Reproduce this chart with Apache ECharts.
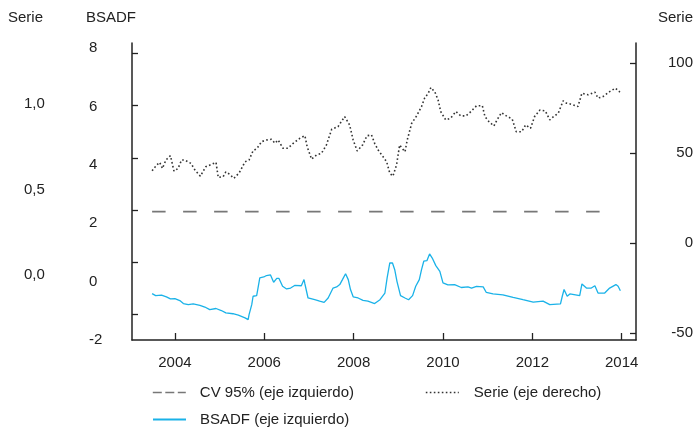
<!DOCTYPE html>
<html>
<head>
<meta charset="utf-8">
<script src="https://cdn.jsdelivr.net/npm/echarts@6/dist/echarts.min.js"></script>
<style>
  html, body { margin: 0; padding: 0; background: #fff; }
  #chart-container { width: 696px; height: 429px; }
</style>
</head>
<body>
<div id="chart-container"></div>
<script>
// Serie (eje derecho) as [decimal year, value]
const serieYears = [2003.49, 2003.59, 2003.66, 2003.72, 2003.80, 2003.90, 2003.98, 2004.07, 2004.15, 2004.22,
  2004.36, 2004.45, 2004.57, 2004.69, 2004.82, 2004.92, 2004.97, 2005.08, 2005.14, 2005.23,
  2005.32, 2005.44, 2005.57, 2005.66, 2005.75, 2005.84, 2005.94, 2006.05, 2006.16, 2006.24,
  2006.31, 2006.42, 2006.53, 2006.65, 2006.80, 2006.91, 2006.96, 2007.06, 2007.17, 2007.28,
  2007.39, 2007.51, 2007.65, 2007.80, 2007.91, 2007.99, 2008.08, 2008.20, 2008.30, 2008.40,
  2008.47, 2008.55, 2008.66, 2008.74, 2008.81, 2008.88, 2008.96, 2009.03, 2009.07, 2009.15,
  2009.20, 2009.30, 2009.41, 2009.52, 2009.59, 2009.67, 2009.73, 2009.82, 2009.89, 2009.95,
  2010.06, 2010.17, 2010.29, 2010.40, 2010.51, 2010.60, 2010.75, 2010.88, 2010.94, 2011.03,
  2011.14, 2011.21, 2011.31, 2011.42, 2011.55, 2011.64, 2011.76, 2011.85, 2011.96, 2012.05,
  2012.17, 2012.29, 2012.39, 2012.46, 2012.58, 2012.69, 2012.76, 2012.87, 2013.02, 2013.11,
  2013.25, 2013.40, 2013.47, 2013.58, 2013.73, 2013.86, 2013.96];
const serieValues = [40.3, 43.5, 45.0, 41.6, 46.3, 48.7, 40.1, 41.6, 46.3, 46.3,
  44.4, 40.7, 37.3, 42.5, 43.9, 45.0, 36.6, 37.0, 39.7, 38.3,
  36.1, 39.2, 45.3, 46.3, 51.4, 52.8, 56.5, 57.4, 57.8, 55.6,
  57.4, 52.8, 52.8, 55.6, 58.4, 59.8, 53.7, 46.8, 49.1, 50.0,
  54.6, 63.4, 64.8, 70.4, 65.8, 57.4, 51.3, 54.6, 59.8, 60.2,
  55.6, 51.8, 48.1, 45.3, 38.9, 37.3, 43.5, 54.6, 53.3, 50.9,
  57.4, 66.7, 70.8, 76.0, 80.7, 83.4, 86.6, 84.0, 79.7, 73.2,
  68.6, 69.5, 73.2, 70.8, 70.8, 72.6, 76.4, 76.5, 70.4, 67.6,
  65.2, 68.6, 72.6, 70.8, 69.0, 62.0, 62.0, 65.8, 63.9, 70.4,
  74.1, 73.6, 68.6, 70.1, 72.3, 79.2, 77.9, 77.3, 76.0, 83.4,
  82.5, 84.0, 80.7, 81.5, 84.3, 86.2, 84.0];

// BSADF (eje izquierdo)
const bsadfYears = [2003.49, 2003.57, 2003.70, 2003.81, 2003.90, 2004.00, 2004.11, 2004.19, 2004.30, 2004.41,
  2004.56, 2004.67, 2004.78, 2004.92, 2005.04, 2005.14, 2005.30, 2005.42, 2005.57, 2005.64,
  2005.66, 2005.72, 2005.75, 2005.83, 2005.86, 2005.90, 2005.99, 2006.05, 2006.14, 2006.21,
  2006.28, 2006.33, 2006.41, 2006.50, 2006.59, 2006.68, 2006.83, 2006.89, 2006.91, 2006.98,
  2007.13, 2007.24, 2007.34, 2007.43, 2007.54, 2007.62, 2007.69, 2007.75, 2007.82, 2007.88,
  2007.93, 2007.99, 2008.10, 2008.21, 2008.32, 2008.36, 2008.47, 2008.59, 2008.70, 2008.75,
  2008.81, 2008.87, 2008.92, 2008.97, 2009.05, 2009.15, 2009.23, 2009.32, 2009.39, 2009.47,
  2009.52, 2009.57, 2009.64, 2009.70, 2009.76, 2009.84, 2009.93, 2010.00, 2010.11, 2010.26,
  2010.41, 2010.56, 2010.64, 2010.75, 2010.90, 2010.97, 2011.12, 2011.34, 2011.57, 2011.79,
  2012.02, 2012.24, 2012.39, 2012.63, 2012.67, 2012.71, 2012.78, 2012.84, 2013.06, 2013.11,
  2013.21, 2013.32, 2013.40, 2013.47, 2013.62, 2013.73, 2013.87, 2013.92, 2013.97];
const bsadfValues = [-0.41, -0.48, -0.46, -0.52, -0.59, -0.58, -0.65, -0.75, -0.79, -0.76,
  -0.81, -0.87, -0.96, -0.92, -0.99, -1.07, -1.10, -1.15, -1.24, -1.30,
  -1.13, -0.79, -0.50, -0.48, -0.22, 0.13, 0.16, 0.21, 0.23, -0.02,
  0.11, 0.11, -0.16, -0.25, -0.22, -0.13, -0.14, 0.07, -0.08, -0.56,
  -0.62, -0.67, -0.71, -0.56, -0.22, -0.18, -0.10, 0.07, 0.27, 0.07,
  -0.27, -0.52, -0.56, -0.64, -0.67, -0.65, -0.75, -0.62, -0.39, 0.13,
  0.64, 0.64, 0.41, 0.01, -0.48, -0.56, -0.62, -0.48, -0.16, 0.07,
  0.41, 0.70, 0.72, 0.95, 0.81, 0.55, 0.35, -0.04, -0.11, -0.10,
  -0.20, -0.18, -0.22, -0.16, -0.18, -0.37, -0.42, -0.45, -0.54, -0.62,
  -0.70, -0.67, -0.79, -0.76, -0.50, -0.27, -0.50, -0.42, -0.48, -0.08,
  -0.22, -0.22, -0.14, -0.39, -0.39, -0.22, -0.10, -0.16, -0.31];

// CV 95% (eje izquierdo)
const cvYears = [2003.49, 2013.68];
const cvValues = [2.4, 2.4];

// tick labels
const yearTicks = [2004, 2006, 2008, 2010, 2012, 2014];
const leftLabels = [-2, 0, 2, 4, 6, 8];
const leftTicks = [-1.13, 0.66, 2.45, 4.24, 6.03, 7.82];
const rightTicks = [-50, 0, 50, 100];
const farLeftLabels = [0, 0.5, 1];

const zip = (xs, ys) => xs.map((x, i) => [x, ys[i]]);

var chartDom = document.getElementById('chart-container');
var myChart = echarts.init(chartDom);

const font = 'Liberation Sans, Arial, Helvetica, sans-serif';
const txt = '#222';
const axisLine = { show: true, onZero: false, lineStyle: { color: '#222', width: 1.5 } };

const legendBase = {
    orient: 'horizontal',
    padding: 0,
    itemWidth: 33,
    itemHeight: 14,
    selectedMode: false,
    itemStyle: { opacity: 0 },
    textStyle: { fontFamily: font, fontSize: 15, color: txt, padding: [0, 0, 0, 9] }
};

var option = {
    animation: false,
    backgroundColor: '#fff',
    grid: { left: 132, right: 60, top: 43, bottom: 89 },
    graphic: [
        { type: 'text', left: 8, top: 10, style: { text: 'Serie', font: '15px ' + font, fill: txt } },
        { type: 'text', left: 86, top: 10, style: { text: 'BSADF', font: '15px ' + font, fill: txt } },
        { type: 'text', left: 658, top: 10, style: { text: 'Serie', font: '15px ' + font, fill: txt } }
    ],
    legend: [
        Object.assign({}, legendBase, {
            left: 152, top: 385,
            data: [{ name: 'CV 95% (eje izquierdo)', lineStyle: { type: [9, 3.5], width: 1.6 } }]
        }),
        Object.assign({}, legendBase, {
            left: 425, top: 385,
            textStyle: Object.assign({}, legendBase.textStyle, { padding: [0, 0, 0, 10] }),
            data: [{ name: 'Serie (eje derecho)', lineStyle: { type: [1.6, 2.4], width: 1.6 } }]
        }),
        Object.assign({}, legendBase, {
            left: 152, top: 412,
            data: [{ name: 'BSADF (eje izquierdo)' }]
        })
    ],
    xAxis: {
        type: 'value',
        min: 2003.04,
        max: 2014.32,
        axisLine: axisLine,
        axisTick: { show: true, inside: true, length: 7, customValues: yearTicks, lineStyle: { color: '#222', width: 1.3 } },
        axisLabel: { customValues: yearTicks, margin: 15, fontFamily: font, fontSize: 15, color: txt, formatter: v => String(v) },
        splitLine: { show: false }
    },
    yAxis: [
        {
            type: 'value',
            position: 'left',
            min: -2,
            max: 8.18,
            axisLine: axisLine,
            axisTick: { show: true, inside: true, length: 6, customValues: leftTicks, lineStyle: { color: '#222', width: 1.3 } },
            axisLabel: { customValues: leftLabels, align: 'left', margin: 43, fontFamily: font, fontSize: 15, color: txt },
            splitLine: { show: false }
        },
        {
            type: 'value',
            position: 'right',
            min: -53.7,
            max: 111.3,
            axisLine: axisLine,
            axisTick: { show: true, inside: true, length: 6, customValues: rightTicks, lineStyle: { color: '#222', width: 1.3 } },
            axisLabel: { customValues: rightTicks, align: 'right', margin: 57, fontFamily: font, fontSize: 15, color: txt },
            splitLine: { show: false }
        },
        {
            type: 'value',
            position: 'left',
            min: -0.38,
            max: 1.357,
            axisLine: { show: false },
            axisTick: { show: false },
            axisLabel: {
                customValues: farLeftLabels, align: 'left', margin: 108,
                fontFamily: font, fontSize: 15, color: txt,
                formatter: v => v.toFixed(1).replace('.', ',')
            },
            splitLine: { show: false }
        }
    ],
    series: [
        {
            name: 'CV 95% (eje izquierdo)',
            type: 'line',
            yAxisIndex: 0,
            symbol: 'none',
            lineStyle: { color: '#777', width: 1.6, type: [13.5, 17.5] },
            itemStyle: { color: '#777' },
            data: zip(cvYears, cvValues)
        },
        {
            name: 'Serie (eje derecho)',
            type: 'line',
            yAxisIndex: 1,
            symbol: 'none',
            lineStyle: { color: '#333', width: 1.6, type: [1.6, 2.4] },
            itemStyle: { color: '#333' },
            data: zip(serieYears, serieValues)
        },
        {
            name: 'BSADF (eje izquierdo)',
            type: 'line',
            yAxisIndex: 0,
            symbol: 'none',
            lineStyle: { color: '#1ab2e8', width: 1.3 },
            itemStyle: { color: '#1ab2e8' },
            data: zip(bsadfYears, bsadfValues)
        }
    ]
};

option && myChart.setOption(option);
</script>
</body>
</html>
